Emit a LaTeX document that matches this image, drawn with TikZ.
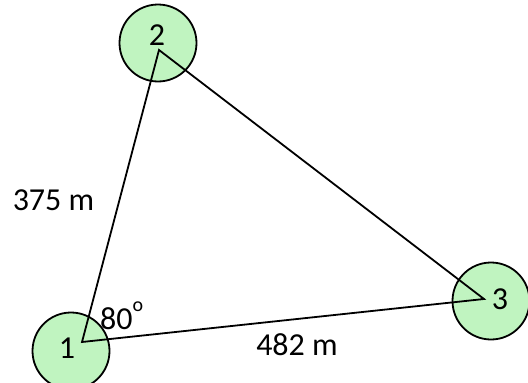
\documentclass[tikz,border=0pt]{standalone}
\usepackage{fontspec}
\setmainfont{Carlito}
\definecolor{nodegreen}{RGB}{192,244,192}
\begin{document}
\begin{tikzpicture}[x=1pt,y=-1pt,
  station/.style={circle,draw=black,line width=1.8pt,fill=nodegreen,minimum size=77pt,inner sep=0pt},
  side/.style={line width=1.8pt,draw=black},
  lbl/.style={font=\fontsize{32}{35}\selectfont,inner sep=0pt,anchor=center}]
\useasboundingbox (0,0) rectangle (528,383);
\node[station] (c1) at (71,351) {};
\node[station] (c2) at (158,43) {};
\node[station] (c3) at (491,301) {};
\node[lbl] (n1) at (67,348) {1};
\node[lbl] (n2) at (157,35) {2};
\node[lbl] (n3) at (500,299) {3};
\coordinate (v1) at (82,342);
\coordinate (v2) at (159,50);
\coordinate (v3) at (484,299);
\draw[side] (v1) -- (v2) -- (v3) -- cycle;
\node[lbl] (d12) at (53.5,200) {375 m};
\node[lbl] (d13) at (297,345) {482 m};
\node[lbl,anchor=base west] (ang) at (100,329) {80\raisebox{0.55em}{\fontsize{20}{22}\selectfont o}};
\end{tikzpicture}
\end{document}
